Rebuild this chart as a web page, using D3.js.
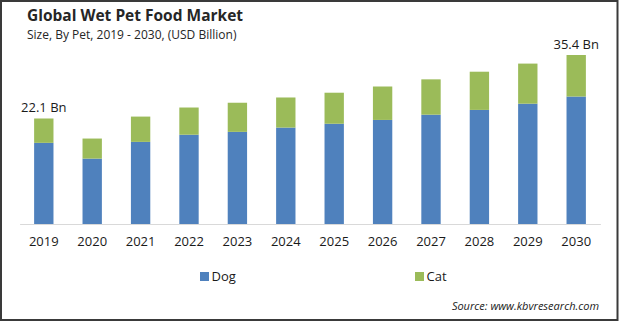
<!DOCTYPE html>
<html>
<head>
<meta charset="utf-8">
<script src="https://cdn.jsdelivr.net/npm/d3@7"></script>
<style>
    body { margin: 0; background: #fff; }
    svg { display: block; font-family: "Open Sans", "Noto Sans", sans-serif; }
</style>
</head>
<body>
<div id="chart"></div>
<script>
// market size by pet, USD billion
const years = ["2019", "2020", "2021", "2022", "2023", "2024", "2025", "2026", "2027", "2028", "2029", "2030"]
const dog = [17.0, 13.7, 17.2, 18.7, 19.3, 20.2, 21.0, 21.8, 22.9, 23.9, 25.2, 26.7]
const cat = [5.1, 4.2, 5.3, 5.7, 6.1, 6.3, 6.5, 7.0, 7.4, 8.0, 8.4, 8.7]
const seriesNames = ["Dog", "Cat"]
const colors = ["#4f81bd", "#9bbb59"]
// totals shown above first and last bar
const labelled = ["2019", "2030"]

const width = 620, height = 322

const svg = d3.select("#chart").append("svg")
    .attr("width", width)
    .attr("height", height)

// outer frame
svg.append("rect")
    .attr("x", 1).attr("y", 1)
    .attr("width", 616.5).attr("height", 319)
    .attr("fill", "none")
    .attr("stroke", "#3a3a3a")
    .attr("stroke-width", 2)

// title
svg.append("text")
    .text("Global Wet Pet Food Market")
    .attr("x", 27).attr("y", 21)
    .attr("font-size", "15.5px")
    .attr("font-weight", "bold")
    .attr("fill", "#262626")

svg.append("text")
    .text("Size, By Pet, 2019 - 2030, (USD Billion)")
    .attr("x", 27).attr("y", 39)
    .attr("font-size", "12px")
    .attr("fill", "#262626")

// table for stacking
const table = years.map((y, i) => ({ year: y, Dog: dog[i], Cat: cat[i] }))
const stacked = d3.stack().keys(seriesNames)(table)

const x = d3.scaleBand()
    .domain(years)
    .range([19.6, 600.4])
    .paddingInner(0.6)
    .paddingOuter(0.3)

const y = d3.scaleLinear()
    .domain([0, 35.4])
    .range([224, 55])

// bars
svg.append("g").selectAll("g")
    .data(stacked)
    .join("g")
    .attr("fill", (d, i) => colors[i])
    .selectAll("rect")
    .data(d => d)
    .join("rect")
    .attr("x", d => x(d.data.year))
    .attr("y", d => y(d[1]))
    .attr("width", x.bandwidth())
    .attr("height", d => y(d[0]) - y(d[1]))

// x axis
const xAxis = svg.append("g")
    .attr("transform", "translate(0,224)")
    .call(d3.axisBottom(x).tickSize(0).tickPadding(13))

xAxis.select(".domain").attr("stroke", "#d9d9d9")
xAxis.selectAll("text")
    .attr("font-family", "Open Sans, sans-serif")
    .attr("font-size", "13px")
    .attr("fill", "#1a1a1a")

// total labels
svg.append("g").selectAll("text")
    .data(table.filter(d => labelled.includes(d.year)))
    .join("text")
    .attr("x", d => x(d.year) + x.bandwidth() / 2)
    .attr("y", d => y(d.Dog + d.Cat) - 6)
    .attr("text-anchor", "middle")
    .attr("font-size", "13px")
    .attr("fill", "#1a1a1a")
    .text(d => d3.format(".1f")(d.Dog + d.Cat) + " Bn")

// legend
const legendX = [200, 415]
const legend = svg.append("g").selectAll("g")
    .data(seriesNames)
    .join("g")
    .attr("transform", (d, i) => "translate(" + legendX[i] + ",272)")

legend.append("rect")
    .attr("width", 9).attr("height", 9)
    .attr("fill", (d, i) => colors[i])

legend.append("text")
    .attr("x", 11.5).attr("y", 9)
    .attr("font-size", "13px")
    .attr("fill", "#1a1a1a")
    .text(d => d)

// source
svg.append("text")
    .text("Source: www.kbvresearch.com")
    .attr("x", 599).attr("y", 310)
    .attr("text-anchor", "end")
    .attr("font-size", "11px")
    .attr("font-style", "italic")
    .attr("fill", "#1a1a1a")
</script>
</body>
</html>
